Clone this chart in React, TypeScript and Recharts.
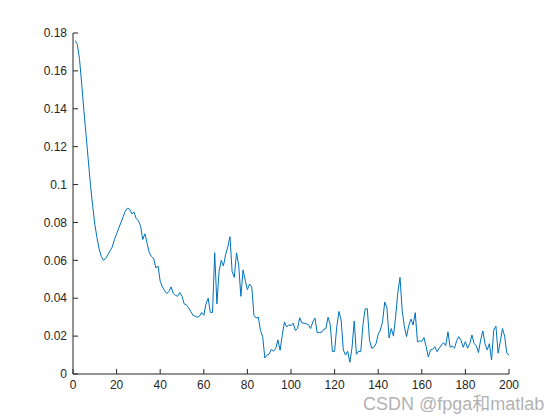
import { LineChart, Line, XAxis, YAxis } from 'recharts';

// samples 1..200
const values = [
  0.176, 0.174, 0.166, 0.153, 0.139, 0.126, 0.113, 0.1, 0.089, 0.079,
  0.072, 0.066, 0.062, 0.06, 0.061, 0.063, 0.065, 0.067, 0.071, 0.074,
  0.077, 0.08, 0.083, 0.086, 0.0875, 0.087, 0.0845, 0.0855, 0.082, 0.081,
  0.078, 0.071, 0.074, 0.069, 0.064, 0.062, 0.061, 0.056, 0.057, 0.049,
  0.046, 0.044, 0.0425, 0.0435, 0.046, 0.0425, 0.0415, 0.041, 0.043, 0.041,
  0.037, 0.0365, 0.035, 0.033, 0.031, 0.0305, 0.03, 0.0305, 0.0325, 0.031,
  0.037, 0.04, 0.0325, 0.0325, 0.064, 0.037, 0.054, 0.06, 0.057, 0.063,
  0.067, 0.0725, 0.054, 0.051, 0.064, 0.0575, 0.041, 0.055, 0.0495, 0.0445,
  0.0475, 0.046, 0.031, 0.0295, 0.03, 0.023, 0.0197, 0.0085, 0.01, 0.0105,
  0.013, 0.012, 0.0135, 0.018, 0.0125, 0.0205, 0.0275, 0.0248, 0.026, 0.0255,
  0.0268, 0.023, 0.024, 0.0297, 0.027, 0.0268, 0.0265, 0.026, 0.024, 0.0275,
  0.0295, 0.0218, 0.022, 0.022, 0.0236, 0.024, 0.03, 0.026, 0.0118, 0.012,
  0.025, 0.033, 0.0285, 0.0127, 0.01, 0.012, 0.0062, 0.014, 0.028, 0.0104,
  0.012, 0.0118, 0.0259, 0.0343, 0.0345, 0.018, 0.0136, 0.0141, 0.016, 0.021,
  0.0232, 0.0276, 0.038, 0.035, 0.019, 0.024, 0.02, 0.0303, 0.043, 0.051,
  0.0335, 0.025, 0.0197, 0.0255, 0.029, 0.0259, 0.0324, 0.017, 0.0175, 0.0172,
  0.0192, 0.0144, 0.009, 0.0127, 0.013, 0.0144, 0.0118, 0.0136, 0.0153, 0.0165,
  0.015, 0.0223, 0.0141, 0.0148, 0.0136, 0.0176, 0.0197, 0.0176, 0.0141, 0.0171,
  0.0136, 0.016, 0.0206, 0.016, 0.015, 0.0113, 0.018, 0.0227, 0.016, 0.0127,
  0.016, 0.0074, 0.0232, 0.0253, 0.011, 0.017, 0.024, 0.02, 0.011, 0.01,
];

const xTicks = [0, 20, 40, 60, 80, 100, 120, 140, 160, 180, 200];
const yTicks = [0, 0.02, 0.04, 0.06, 0.08, 0.1, 0.12, 0.14, 0.16, 0.18];
const yLabels = ['0', '0.02', '0.04', '0.06', '0.08', '0.1', '0.12', '0.14', '0.16', '0.18'];

const axisColor = '#262626';
const tickFont = { fontFamily: 'Liberation Sans, Arial, sans-serif', fontSize: 12, fill: axisColor };

export default function App() {
  const data = values.map((v, i) => ({ x: i + 1, y: v }));

  return (
    <div style={{ position: 'absolute', left: 0, top: 0, width: 560, height: 420, background: '#fff' }}>
      <LineChart width={560} height={420} data={data} margin={{ top: 33, right: 51, bottom: 16, left: 0 }}>
        <XAxis
          dataKey="x"
          type="number"
          domain={[0, 200]}
          ticks={xTicks}
          interval={0}
          stroke={axisColor}
          tickSize={-5}
          tickMargin={11}
          height={30}
          tick={tickFont}
        />
        <YAxis
          type="number"
          domain={[0, 0.18]}
          ticks={yTicks}
          interval={0}
          width={73}
          stroke={axisColor}
          tickSize={-5}
          tickMargin={11}
          tick={tickFont}
          tickFormatter={(v: number) => yLabels[yTicks.indexOf(v)] ?? String(v)}
        />
        <Line
          type="linear"
          dataKey="y"
          stroke="#0072BD"
          strokeWidth={1}
          dot={false}
          isAnimationActive={false}
        />
      </LineChart>
      <div
        style={{
          position: 'absolute',
          left: 363,
          top: 389,
          fontFamily: 'Liberation Sans, Arial, "Noto Sans CJK SC", sans-serif',
          fontSize: 18,
          color: 'rgba(150,150,150,0.75)',
          whiteSpace: 'nowrap',
        }}
      >
        CSDN @fpga和matlab
      </div>
    </div>
  );
}
